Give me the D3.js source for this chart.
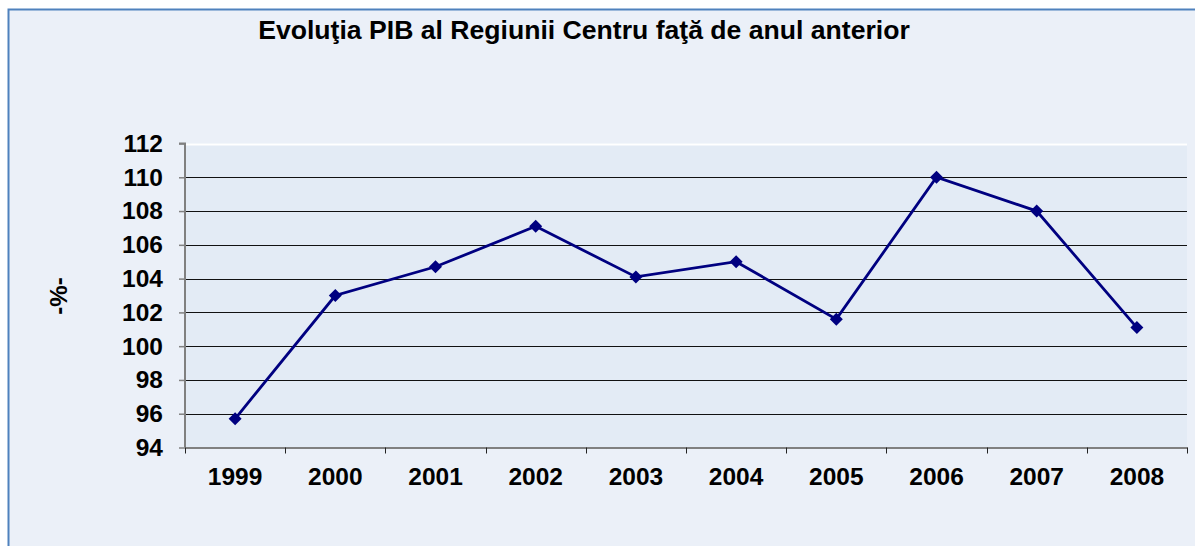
<!DOCTYPE html>
<html lang="ro">
  <head>
    <meta charset="utf-8" />
    <style>
      body { margin: 0; background: #fff; }
      text { font-family: Arial, "Liberation Sans", sans-serif; font-weight: bold; }
    </style>
    <script src="https://d3js.org/d3.v7.min.js"></script>
  </head>
  <body>
    <svg width="1195" height="546"></svg>
    <script>
      const years = ["1999", "2000", "2001", "2002", "2003", "2004", "2005", "2006", "2007", "2008"];
      const pib = [95.7, 103.0, 104.7, 107.1, 104.1, 105.0, 101.6, 110.0, 108.0, 101.1];
      const yTicks = [94, 96, 98, 100, 102, 104, 106, 108, 110, 112];

      const svg = d3.select("svg");

      // chart area frame
      svg.append("rect")
        .attr("x", 8.5).attr("y", 9.5)
        .attr("width", 1200).attr("height", 560)
        .attr("fill", "#ebf0f8")
        .attr("stroke", "#4f81bd")
        .attr("stroke-width", 2);

      const plotLeft = 185, plotTop = 143.5, plotRight = 1187, plotBottom = 447.5;

      const x = d3.scaleBand().domain(years).range([plotLeft, plotRight]);
      const y = d3.scaleLinear().domain([94, 112]).range([plotBottom, plotTop]);

      // plot area
      svg.append("rect")
        .attr("x", plotLeft).attr("y", plotTop)
        .attr("width", plotRight - plotLeft).attr("height", plotBottom - plotTop)
        .attr("fill", "#e3ebf5");

      // gridlines
      svg.append("g")
        .selectAll("line")
        .data(yTicks.filter(d => d > 94))
        .join("line")
        .attr("x1", plotLeft).attr("x2", plotRight)
        .attr("y1", d => Math.round(y(d)) + 0.5)
        .attr("y2", d => Math.round(y(d)) + 0.5)
        .attr("stroke", d => d === 112 ? "#ffffff" : "#111")
        .attr("stroke-width", d => d === 112 ? 2 : 1);

      // y axis
      const yAxis = svg.append("g")
        .attr("transform", "translate(" + plotLeft + ",0)")
        .call(d3.axisLeft(y).tickValues(yTicks).tickSize(6).tickPadding(16));
      yAxis.select(".domain").attr("stroke", "#808080").attr("stroke-width", 2)
        .attr("d", "M-6," + plotTop + "H0V" + plotBottom);
      yAxis.selectAll(".tick line").attr("stroke", "#808080").attr("stroke-width", 1.5);
      yAxis.selectAll(".tick text")
        .attr("font-size", 24.5).attr("fill", "#000")
        .attr("font-family", "Arial, 'Liberation Sans', sans-serif")
        .attr("font-weight", "bold");

      // x axis
      const xAxis = svg.append("g")
        .attr("transform", "translate(0," + plotBottom + ")")
        .call(d3.axisBottom(x).tickSize(0).tickPadding(20.5));
      xAxis.select(".domain").attr("stroke", "#808080").attr("stroke-width", 2);
      xAxis.selectAll(".tick text")
        .attr("font-size", 24.5).attr("fill", "#000")
        .attr("font-family", "Arial, 'Liberation Sans', sans-serif")
        .attr("font-weight", "bold");
      svg.append("g")
        .selectAll("line")
        .data(years.concat(["end"]))
        .join("line")
        .attr("x1", (d, i) => Math.round(plotLeft + i * x.bandwidth()) + 0.5)
        .attr("x2", (d, i) => Math.round(plotLeft + i * x.bandwidth()) + 0.5)
        .attr("y1", plotBottom).attr("y2", plotBottom + 6)
        .attr("stroke", "#222");

      // line
      const cx = d => x(d) + x.bandwidth() / 2;
      svg.append("path")
        .datum(years)
        .attr("fill", "none")
        .attr("stroke", "#000080")
        .attr("stroke-width", 2.8)
        .attr("d", d3.line().x(d => cx(d)).y((d, i) => y(pib[i])));

      svg.append("g")
        .selectAll("path")
        .data(years)
        .join("path")
        .attr("transform", (d, i) => "translate(" + cx(d) + "," + y(pib[i]) + ")")
        .attr("d", "M0,-6.5L6.5,0L0,6.5L-6.5,0Z")
        .attr("fill", "#000080");

      // titles
      svg.append("text")
        .attr("x", 584).attr("y", 39)
        .attr("text-anchor", "middle")
        .attr("font-size", 26.6)
        .text("Evoluţia PIB al Regiunii Centru faţă de anul anterior");

      svg.append("text")
        .attr("transform", "translate(67,296) rotate(-90)")
        .attr("text-anchor", "middle")
        .attr("font-size", 24)
        .text("-%-");
    </script>
  </body>
</html>
